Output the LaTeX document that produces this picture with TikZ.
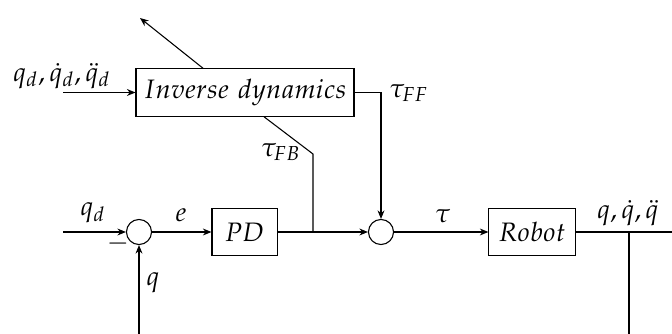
\documentclass[tikz,border=0pt]{standalone}
\usepackage{mathpazo}
\usetikzlibrary{arrows.meta,calc}
\begin{document}
\begin{tikzpicture}[x=0.375pt,y=-0.375pt,
  block/.style={draw, minimum height=17.8pt, inner sep=0pt},
  sumc/.style={draw, circle, minimum size=9.4pt, inner sep=0pt},
  arr/.style={-{Stealth[length=3.2pt,width=2.6pt]}},
  lbl/.style={inner sep=0pt}]
\useasboundingbox (0,0) rectangle (672,334);

% blocks and summing junctions
\node[block, minimum width=81.75pt] (inv) at (245,92.5) {$Inverse\ dynamics$};
\node[block, minimum width=24.4pt] (pd) at (244.5,232) {$PD$};
\node[block, minimum width=32.3pt] (rob) at (532,232) {$Robot$};
\node[sumc] (s1) at (139,232) {};
\node[sumc] (s2) at (381,232) {};

% free ends and branch points
\coordinate (inA) at (63,92.5);
\coordinate (inB) at (63,232);
\coordinate (up) at (140,18);
\coordinate (fbk) at (313,154);
\coordinate (j1) at (313,232);
\coordinate (j2) at (629,232);
\coordinate (out) at (672,232);
\coordinate (bot2) at (629,334);
\coordinate (bot1) at (139,334);

% signal lines
\draw[arr] (inA) -- (inv.west);
\draw[arr] ($(inv.north)+(-42,0)$) -- (up);
\draw ($(inv.south)+(19,0)$) -- (fbk) -- (j1);
\draw[arr] (inv.east) -| (s2.north);
\draw[arr] (inB) -- (s1.west);
\draw[arr] (s1.east) -- (pd.west);
\draw[arr] (pd.east) -- (s2.west);
\draw[arr] (s2.east) -- (rob.west);
\draw (rob.east) -- (out);
\draw (j2) -- (bot2);
\draw[arr] (bot1) -- (s1.south);

% labels
\node[lbl] (lin) at (62,76) {$q_d,\dot q_d,\ddot q_d$};
\node[lbl] (lff) at (409,93) {$\tau_{FF}$};
\node[lbl] (lfb) at (281,152) {$\tau_{FB}$};
\node[lbl] (lqd) at (93,213) {$q_d$};
\node[lbl] (le) at (181,215) {$e$};
\node[lbl] (lminus) at (118,244) {$-$};
\node[lbl] (lq) at (153,283) {$q$};
\node[lbl] (ltau) at (443,216) {$\tau$};
\node[lbl] (lout) at (628,213) {$q,\dot q,\ddot q$};
\end{tikzpicture}
\end{document}
